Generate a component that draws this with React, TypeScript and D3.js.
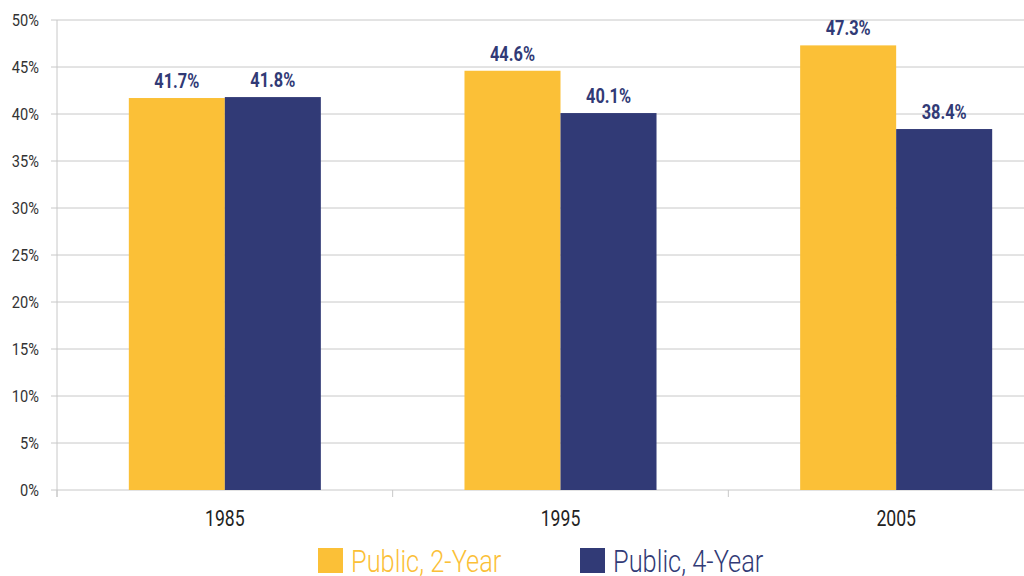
import React from "react";
import * as d3 from "d3";

const categories = ["1985", "1995", "2005"];
const seriesNames = ["Public, 2-Year", "Public, 4-Year"];
const public2Year = [41.7, 44.6, 47.3];
const public4Year = [41.8, 40.1, 38.4];
const yTicks = [0, 5, 10, 15, 20, 25, 30, 35, 40, 45, 50];
const colors = ["#FBC037", "#313A76"];

const FONT = "Roboto, 'DejaVu Sans Condensed', sans-serif";

type TProps = {
  x: number;
  y: number;
  sx: number;
  anchor?: "start" | "middle" | "end";
  size: number;
  weight?: number | string;
  fill: string;
  children: React.ReactNode;
};

function CText({ x, y, sx, anchor = "start", size, weight = 400, fill, children }: TProps) {
  return (
    <g transform={`translate(${x},${y}) scale(${sx},1)`}>
      <text x={0} y={0} textAnchor={anchor} fontSize={size} fontWeight={weight} fill={fill}>
        {children}
      </text>
    </g>
  );
}

export default function App() {
  const W = 1024;
  const H = 576;
  const left = 57;
  const right = 1064;
  const top = 20;
  const bottom = 490;

  const x = d3.scaleBand<string>().domain(categories).range([left, right]).padding(0);
  const inner = d3
    .scaleBand<string>()
    .domain(seriesNames)
    .range([0, x.bandwidth()])
    .paddingInner(0)
    .paddingOuter(0.748);
  const y = d3.scaleLinear().domain([0, 50]).range([bottom, top]);
  const series = [public2Year, public4Year];

  const catTicks = [left, ...categories.slice(1).map((c) => x(c)!)];

  return (
    <svg
      width={W}
      height={H}
      style={{ position: "absolute", left: 0, top: 0, display: "block" }}
      fontFamily={FONT}
    >
      <rect x={0} y={0} width={W} height={H} fill="#fff" />
      {yTicks.map((t) => (
        <g key={t}>
          <line x1={51} x2={W} y1={y(t)} y2={y(t)} stroke="#c8c8c8" strokeWidth={1} />
          <CText x={39} y={y(t) + 6} sx={0.86} anchor="end" size={17} fill="#333">
            {t}%
          </CText>
        </g>
      ))}
      <line x1={left} x2={left} y1={top} y2={bottom + 7} stroke="#c8c8c8" strokeWidth={1} />
      {catTicks.map((cx, i) => (
        <line key={i} x1={cx} x2={cx} y1={bottom} y2={bottom + 7} stroke="#c8c8c8" strokeWidth={1} />
      ))}
      {categories.map((c, ci) => (
        <g key={c}>
          {series.map((vals, si) => {
            const bx = x(c)! + inner(seriesNames[si])!;
            const by = y(vals[ci]);
            return (
              <g key={si}>
                <rect x={bx} y={by} width={inner.bandwidth()} height={bottom - by} fill={colors[si]} />
                <CText
                  x={bx + inner.bandwidth() / 2}
                  y={by - 10}
                  sx={0.78}
                  anchor="middle"
                  size={21}
                  weight={700}
                  fill="#313A76"
                >
                  {vals[ci].toFixed(1)}%
                </CText>
              </g>
            );
          })}
          <CText x={x(c)! + x.bandwidth() / 2} y={526} sx={0.8} anchor="middle" size={22} fill="#222">
            {c}
          </CText>
        </g>
      ))}
      {seriesNames.map((s, i) => {
        const lx = [318, 580][i];
        return (
          <g key={s}>
            <rect x={lx} y={548} width={25} height={25} fill={colors[i]} />
            <CText x={lx + 33} y={572} sx={0.82} size={31} weight={300} fill={colors[i]}>
              {s}
            </CText>
          </g>
        );
      })}
    </svg>
  );
}
